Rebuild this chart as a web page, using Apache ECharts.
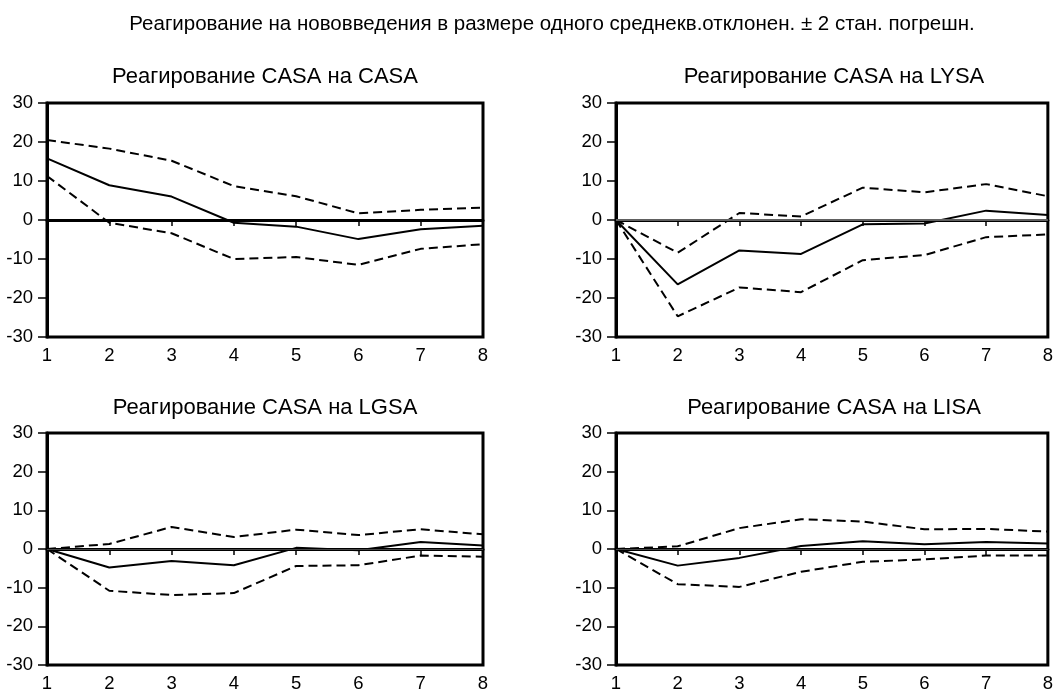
<!DOCTYPE html>
<html>
<head>
<meta charset="utf-8">
<script src="https://cdn.jsdelivr.net/npm/echarts@6/dist/echarts.min.js"></script>
<style>
  html, body { margin: 0; padding: 0; background: #fff; }
  #chart { width: 1056px; height: 693px; }
</style>
</head>
<body>
<div id="chart"></div>
<script>
// periods
const periods = ['1', '2', '3', '4', '5', '6', '7', '8']

const mainTitle = 'Реагирование на нововведения в размере одного среднекв.отклонен. ± 2 стан. погрешн.'
const panelTitles = [
  'Реагирование CASA на CASA',
  'Реагирование CASA на LYSA',
  'Реагирование CASA на LGSA',
  'Реагирование CASA на LISA'
]

// response, upper band, lower band per panel
const casaResp = [15.8, 8.9, 6.0, -0.7, -1.7, -4.9, -2.4, -1.5]
const casaUpper = [20.5, 18.3, 15.2, 8.7, 6.1, 1.7, 2.6, 3.2]
const casaLower = [11.3, -0.7, -3.4, -10.0, -9.5, -11.5, -7.4, -6.2]

const lysaResp = [0, -16.5, -7.8, -8.7, -1.1, -0.9, 2.4, 1.3]
const lysaUpper = [0, -8.4, 1.8, 0.9, 8.3, 7.1, 9.2, 6.1]
const lysaLower = [0, -24.7, -17.3, -18.5, -10.3, -9.0, -4.4, -3.7]

const lgsaResp = [0, -4.8, -3.1, -4.2, 0.3, -0.3, 1.8, 0.9]
const lgsaUpper = [0, 1.3, 5.7, 3.1, 5.0, 3.6, 5.1, 3.8]
const lgsaLower = [0, -10.8, -11.9, -11.4, -4.4, -4.2, -1.7, -2.0]

const lisaResp = [0, -4.3, -2.3, 0.8, 2.0, 1.2, 1.8, 1.4]
const lisaUpper = [0, 0.7, 5.4, 7.7, 7.1, 5.1, 5.2, 4.5]
const lisaLower = [0, -9.1, -9.8, -5.9, -3.3, -2.7, -1.7, -1.7]

const yTicks = { min: -30, max: 30, interval: 10 }

const panels = [
  { resp: casaResp, upper: casaUpper, lower: casaLower, zero: { color: '#000', width: 2 } },
  { resp: lysaResp, upper: lysaUpper, lower: lysaLower, zero: { color: '#808080', width: 1.5 } },
  { resp: lgsaResp, upper: lgsaUpper, lower: lgsaLower, zero: { color: '#444', width: 1 } },
  { resp: lisaResp, upper: lisaUpper, lower: lisaLower, zero: { color: '#444', width: 1 } }
]

const font = 'Arial, "Liberation Sans", sans-serif'
const gridPos = [
  { left: 47, top: 103, width: 436, height: 234 },
  { left: 616, top: 103, width: 436, height: 234 },
  { left: 47, top: 433, width: 436, height: 234 },
  { left: 616, top: 433, width: 436, height: 234 }
]
const titleTops = [66, 66, 397, 397]

const chart = echarts.init(document.getElementById('chart'))

const option = {
  backgroundColor: '#fff',
  animation: false,
  title: [
    {
      text: mainTitle, left: 552, top: 14, textAlign: 'center', padding: 0,
      textStyle: { fontFamily: font, fontSize: 20.5, fontWeight: 'normal', color: '#000' }
    },
    ...panelTitles.map((t, i) => ({
      text: t,
      left: gridPos[i].left + gridPos[i].width / 2,
      top: titleTops[i],
      textAlign: 'center',
      padding: 0,
      textStyle: { fontFamily: font, fontSize: 22, fontWeight: 'normal', color: '#000' }
    }))
  ],
  grid: gridPos.map(g => ({ ...g, show: true, borderColor: '#000', borderWidth: 3, containLabel: false })),
  xAxis: gridPos.map((g, i) => ({
    type: 'category',
    gridIndex: i,
    data: periods,
    boundaryGap: false,
    axisLine: { lineStyle: { color: '#000', width: 3 } },
    axisTick: { show: true, length: 6, lineStyle: { color: '#000', width: 1.5 } },
    axisLabel: { color: '#000', fontFamily: font, fontSize: 18.5, margin: 9 },
    splitLine: { show: false }
  })),
  yAxis: gridPos.map((g, i) => ({
    type: 'value',
    gridIndex: i,
    min: yTicks.min,
    max: yTicks.max,
    interval: yTicks.interval,
    axisLine: { show: true, lineStyle: { color: '#000', width: 3 } },
    axisTick: { show: true, length: 9, lineStyle: { color: '#000', width: 1.5 } },
    axisLabel: { color: '#000', fontFamily: font, fontSize: 18.5, margin: 14 },
    splitLine: { show: false }
  })),
  series: panels.flatMap((p, i) => [
    {
      type: 'line', xAxisIndex: i, yAxisIndex: i, data: p.resp,
      symbol: 'none', silent: true,
      lineStyle: { color: '#000', width: 2 },
      markLine: {
        silent: true, symbol: 'none', label: { show: false },
        lineStyle: { color: p.zero.color, width: p.zero.width, type: 'solid' },
        data: [{ yAxis: 0 }]
      }
    },
    {
      type: 'line', xAxisIndex: i, yAxisIndex: i, data: p.upper,
      symbol: 'none', silent: true,
      lineStyle: { color: '#000', width: 2, type: [9, 5] }
    },
    {
      type: 'line', xAxisIndex: i, yAxisIndex: i, data: p.lower,
      symbol: 'none', silent: true,
      lineStyle: { color: '#000', width: 2, type: [9, 5] }
    }
  ])
}

chart.setOption(option)
window.addEventListener('resize', () => chart.resize())
</script>
</body>
</html>
